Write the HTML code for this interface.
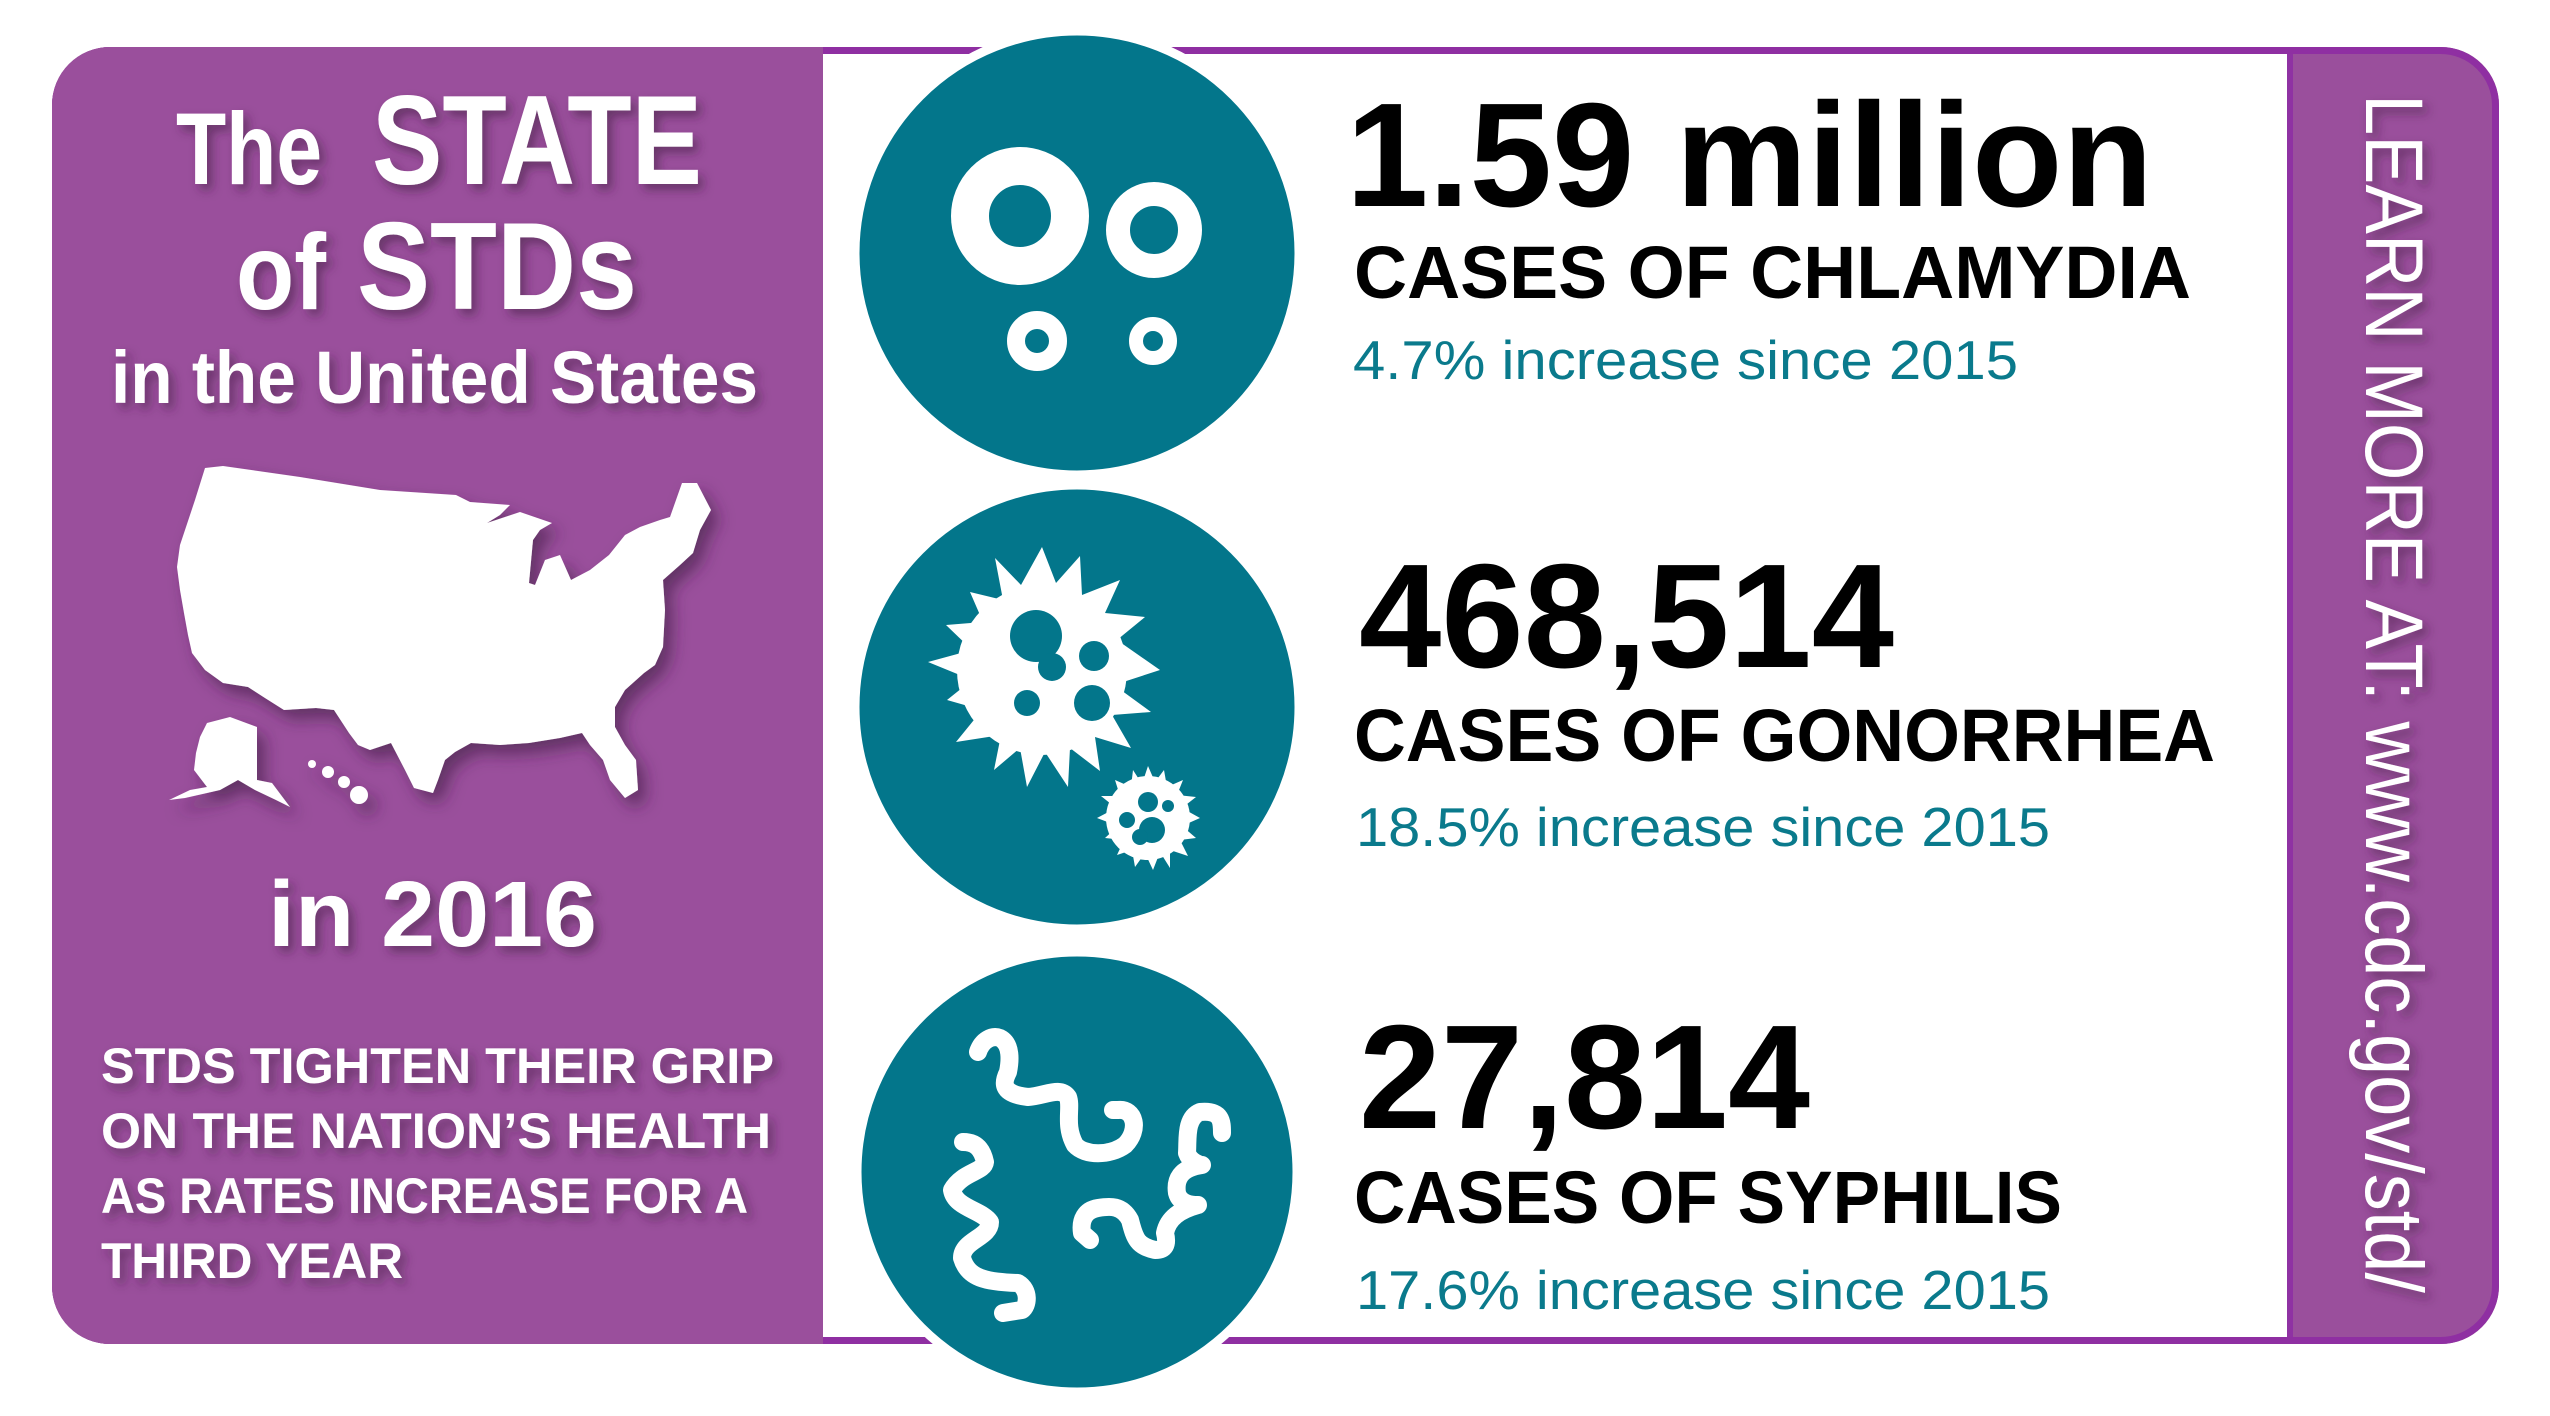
<!DOCTYPE html>
<html><head><meta charset="utf-8"><style>
html,body{margin:0;padding:0;background:#fff;}
svg{display:block;}
</style></head><body>
<svg width="2550" height="1416" viewBox="0 0 2550 1416" xmlns="http://www.w3.org/2000/svg">
<defs>
<filter id="sh" x="-10%" y="-10%" width="130%" height="130%"><feDropShadow dx="5" dy="6" stdDeviation="5" flood-color="#3d1a40" flood-opacity="0.55"/></filter>
<filter id="msh" x="-10%" y="-10%" width="130%" height="130%"><feDropShadow dx="8" dy="10" stdDeviation="8" flood-color="#3d1a40" flood-opacity="0.6"/></filter>
<clipPath id="frame"><rect x="52" y="47" width="2447" height="1297" rx="58"/></clipPath>
</defs>
<!-- frame -->
<rect x="52" y="47" width="2447" height="1297" rx="58" fill="#fff"/>
<g clip-path="url(#frame)">
<rect x="52" y="47" width="771" height="1297" fill="#9a4f9c"/>
<rect x="2287" y="47" width="212" height="1297" fill="#9a4f9c"/>
<line x1="2290" y1="47" x2="2290" y2="1344" stroke="#8f32a3" stroke-width="6"/>
</g>
<rect x="55.5" y="50.5" width="2440" height="1290" rx="55" fill="none" stroke="#8f2fa2" stroke-width="7"/>
<rect x="52" y="47" width="60" height="60" fill="none"/>
<!-- left panel cover (no border on left panel edges) -->
<path d="M823 47 H110 A58 58 0 0 0 52 105 V1286 A58 58 0 0 0 110 1344 H823 Z" fill="#9a4f9c"/>

<!-- circles -->
<g fill="#03768b" stroke="#fff" stroke-width="9">
<circle cx="1077" cy="253" r="222"/>
<circle cx="1077" cy="707" r="222"/>
<circle cx="1077" cy="1172" r="220"/>
</g>

<!-- chlamydia rings -->
<g fill="none" stroke="#fff">
<circle cx="1020" cy="216" r="50" stroke-width="38"/>
<circle cx="1154" cy="230" r="36" stroke-width="24"/>
<circle cx="1037" cy="341" r="21" stroke-width="18"/>
<circle cx="1153" cy="341" r="17" stroke-width="14"/>
</g>

<!-- gonorrhea -->
<g fill="#fff">
<polygon points="1042,547 1056,583 1080,556 1082,595 1120,580 1105,613 1145,617 1117,640 1160,670 1114,685 1151,712 1112,715 1131,748 1095,737 1100,771 1070,748 1068,787 1045,752 1027,787 1020,748 994,770 1001,735 956,742 982,710 947,700 972,680 928,662 972,650 946,625 983,622 970,592 1003,600 995,558 1021,585"/>
<circle cx="1042" cy="670" r="85"/>
<polygon points="1148,766 1155,782 1164,770 1167,787 1183,780 1177,795 1196,797 1182,808 1200,818 1182,826 1196,838 1180,840 1188,856 1170,850 1170,868 1160,852 1153,870 1145,853 1135,867 1132,850 1117,855 1124,840 1105,838 1118,826 1097,818 1116,808 1101,796 1120,796 1115,780 1131,787 1133,770 1142,784"/>
<circle cx="1148" cy="818" r="42"/>
</g>
<g fill="#03768b">
<circle cx="1036" cy="636" r="26"/><circle cx="1052" cy="667" r="14"/>
<circle cx="1094" cy="656" r="15"/><circle cx="1027" cy="703" r="13"/><circle cx="1092" cy="703" r="18"/>
<circle cx="1148" cy="802" r="10"/><circle cx="1168" cy="806" r="6"/><circle cx="1127" cy="820" r="8"/>
<circle cx="1152" cy="830" r="13"/><circle cx="1140" cy="837" r="8"/>
</g>

<!-- syphilis -->
<g fill="none" stroke="#fff" stroke-width="18" stroke-linecap="round" stroke-linejoin="round">
<path d="M978,1052 C982,1040 992,1035 1000,1038 C1012,1044 1010,1062 1008,1072 C1003,1082 1000,1094 1028,1097 C1045,1096 1060,1086 1068,1097 C1072,1108 1064,1125 1075,1145 C1085,1156 1110,1156 1125,1145 C1140,1130 1135,1108 1118,1110 L1113,1110"/>
<path d="M963,1142 C975,1142 982,1148 985,1162 C984,1172 962,1172 952,1190 C955,1208 982,1210 990,1222 C990,1238 962,1240 962,1258 C968,1278 985,1282 1018,1283 C1030,1290 1028,1306 1022,1310 L1003,1313"/>
<path d="M1222,1133 C1222,1122 1222,1110 1200,1112 C1185,1118 1188,1140 1187,1153 C1190,1162 1200,1165 1202,1165 C1180,1168 1175,1180 1177,1193 C1180,1205 1195,1205 1198,1205 C1180,1210 1168,1218 1165,1233 C1168,1245 1165,1250 1155,1250 C1138,1246 1135,1240 1130,1220 C1122,1205 1110,1206 1098,1208 C1085,1210 1080,1220 1082,1233 L1090,1240"/>
</g>

<!-- map -->
<g fill="#fff" filter="url(#msh)">
<polygon points="205,468 223,466 300,477 380,490 456,495 470,502 510,505 500,515 487,523 520,512 552,523 540,530 533,540 529,583 535,585 545,560 560,555 571,580 590,570 609,555 625,535 640,527 660,520 670,517 682,483 697,483 711,510 700,530 693,553 680,565 663,580 665,610 663,647 655,665 644,673 625,690 615,707 615,727 625,745 636,760 638,790 625,798 610,780 603,760 590,745 582,733 560,738 529,743 500,745 471,743 455,752 445,760 438,780 433,793 414,788 405,770 391,743 370,750 358,745 349,733 334,710 316,708 284,710 265,698 248,687 223,683 205,670 192,653 188,635 184,613 180,590 177,567 180,545 186,527 195,500"/>
<polygon points="207,723 230,717 257,727 257,780 272,783 290,807 276,800 255,790 238,780 220,790 207,793 185,798 169,800 190,790 207,787 194,770 196,753 200,737"/>
<circle cx="312" cy="764" r="4"/><circle cx="328" cy="772" r="6"/><circle cx="344" cy="782" r="6"/><circle cx="359" cy="795" r="9"/>
</g>

<!-- left titles -->
<g fill="#fff" font-family="'Liberation Sans', sans-serif" font-weight="bold" filter="url(#sh)">
<text x="176" y="184" font-size="102" textLength="146" lengthAdjust="spacingAndGlyphs">The</text>
<text x="372" y="184" font-size="127" textLength="330" lengthAdjust="spacingAndGlyphs">STATE</text>
<text x="236" y="309" font-size="108" textLength="90" lengthAdjust="spacingAndGlyphs">of</text>
<text x="357" y="309" font-size="124" textLength="280" lengthAdjust="spacingAndGlyphs">STDs</text>
<text x="111" y="403" font-size="74" textLength="647" lengthAdjust="spacingAndGlyphs">in the United States</text>
<text x="268" y="946" font-size="93" textLength="329" lengthAdjust="spacingAndGlyphs">in 2016</text>
<g font-size="50">
<text x="101" y="1083" textLength="673" lengthAdjust="spacingAndGlyphs">STDS TIGHTEN THEIR GRIP</text>
<text x="101" y="1148" textLength="670" lengthAdjust="spacingAndGlyphs">ON THE NATION’S HEALTH</text>
<text x="101" y="1213" textLength="647" lengthAdjust="spacingAndGlyphs">AS RATES INCREASE FOR A</text>
<text x="101" y="1278" textLength="302" lengthAdjust="spacingAndGlyphs">THIRD YEAR</text>
</g>
</g>

<!-- right vertical -->
<g filter="url(#sh)">
<text transform="translate(2366,94) rotate(90)" fill="#fff" font-family="'Liberation Sans', sans-serif" font-size="82" textLength="1199" lengthAdjust="spacingAndGlyphs">LEARN MORE AT: www.cdc.gov/std/</text>
</g>

<!-- stats -->
<g font-family="'Liberation Sans', sans-serif">
<g font-weight="bold" fill="#000">
<text x="1346" y="206" font-size="148" textLength="807" lengthAdjust="spacingAndGlyphs">1.59 million</text>
<text x="1359" y="667" font-size="148" textLength="535" lengthAdjust="spacingAndGlyphs">468,514</text>
<text x="1359" y="1128" font-size="148" textLength="451" lengthAdjust="spacingAndGlyphs">27,814</text>
</g>
<g fill="#000" font-size="74" font-weight="bold">
<text x="1354" y="298" textLength="837" lengthAdjust="spacingAndGlyphs">CASES OF CHLAMYDIA</text>
<text x="1354" y="761" textLength="861" lengthAdjust="spacingAndGlyphs">CASES OF GONORRHEA</text>
<text x="1354" y="1223" textLength="708" lengthAdjust="spacingAndGlyphs">CASES OF SYPHILIS</text>
</g>
<g fill="#0a7a8c" font-size="55">
<text x="1353" y="379" textLength="665" lengthAdjust="spacingAndGlyphs">4.7% increase since 2015</text>
<text x="1356" y="846" textLength="694" lengthAdjust="spacingAndGlyphs">18.5% increase since 2015</text>
<text x="1356" y="1309" textLength="694" lengthAdjust="spacingAndGlyphs">17.6% increase since 2015</text>
</g>
</g>
</svg>
</body></html>
